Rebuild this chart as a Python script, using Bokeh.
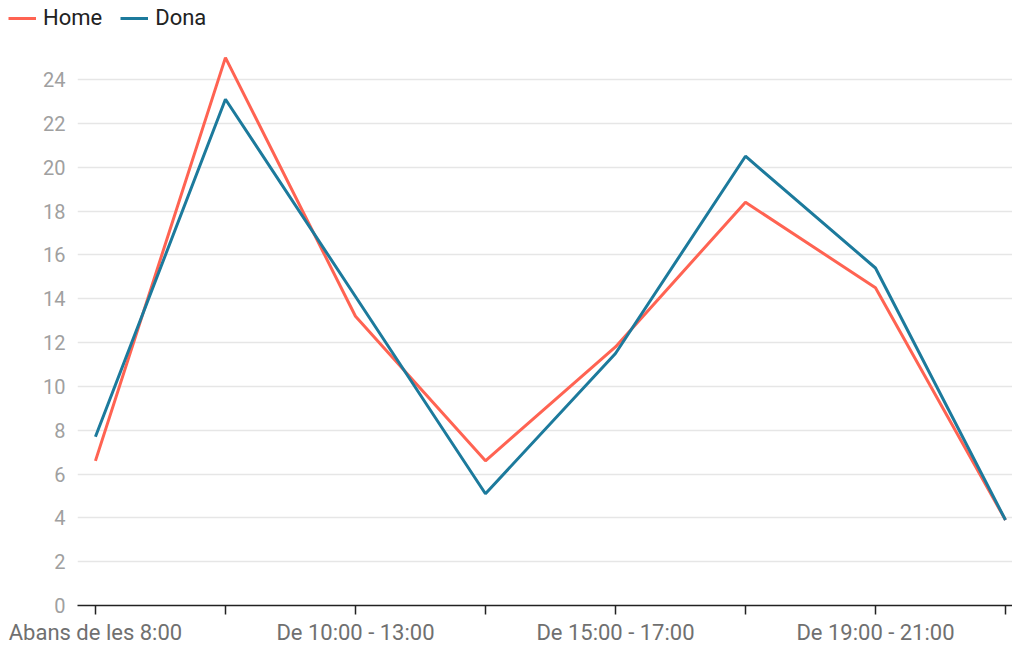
from bokeh.plotting import figure
from bokeh.layouts import column, row
from bokeh.models import Range1d, FixedTicker, Legend, LegendItem
from bokeh.embed import file_html
from bokeh.resources import INLINE

categories = ["Abans de les 8:00", "De 8:00 - 10:00", "De 10:00 - 13:00", "De 13:00 - 15:00",
              "De 15:00 - 17:00", "De 17:00 - 19:00", "De 19:00 - 21:00", "Després de les 21:00"]
series_names = ["Home", "Dona"]
home = [6.6, 25.0, 13.2, 6.6, 11.8, 18.4, 14.5, 3.9]
dona = [7.7, 23.1, 14.1, 5.1, 11.5, 20.5, 15.4, 3.9]
y_ticks = list(range(0, 25, 2))

HOME_C = "#FF6352"
DONA_C = "#1C7A9C"
FONT = "Roboto"

xs = list(range(len(categories)))

# main chart
p = figure(width=1012, height=608, output_backend="svg", toolbar_location=None,
           x_range=Range1d(-0.138, len(categories) - 1 + 0.054),
           y_range=Range1d(0, 25.78),
           min_border_left=77, min_border_right=0, min_border_top=0, min_border_bottom=43)
p.outline_line_color = None

p.line(xs, home, line_color=HOME_C, line_width=3)
p.line(xs, dona, line_color=DONA_C, line_width=3)

p.xaxis.ticker = FixedTicker(ticks=xs)
p.xaxis.major_label_overrides = {i: (c if i % 2 == 0 else "") for i, c in enumerate(categories)}
p.xaxis.axis_line_color = "#222222"
p.xaxis.axis_line_width = 1.5
p.xaxis.major_tick_line_color = "#222222"
p.xaxis.major_tick_line_width = 1.5
p.xaxis.major_tick_out = 9
p.xaxis.major_tick_in = 0
p.xaxis.minor_tick_line_color = None
p.xaxis.major_label_text_font = FONT
p.xaxis.major_label_text_font_size = "22px"
p.xaxis.major_label_text_color = "#707070"
p.xaxis.major_label_standoff = 5
p.xgrid.grid_line_color = None

p.yaxis.ticker = FixedTicker(ticks=y_ticks)
p.yaxis.axis_line_color = None
p.yaxis.major_tick_line_color = None
p.yaxis.minor_tick_line_color = None
p.yaxis.major_tick_out = 0
p.yaxis.major_tick_in = 0
p.yaxis.major_label_standoff = 12
p.yaxis.major_label_text_font = FONT
p.yaxis.major_label_text_font_size = "20px"
p.yaxis.major_label_text_color = "#a0a0a0"
p.ygrid.grid_line_color = "#e6e6e6"
p.ygrid.grid_line_width = 1.5

# legend strip on top
lg = figure(width=1012, height=40, output_backend="svg", toolbar_location=None,
            x_range=Range1d(0, 1), y_range=Range1d(0, 1),
            x_axis_location=None, y_axis_location=None,
            min_border_left=0, min_border_right=0, min_border_top=0, min_border_bottom=0)
lg.outline_line_color = None
lg.grid.visible = False
r1 = lg.line([-5, -4], [-5, -5], line_color=HOME_C, line_width=3)
r2 = lg.line([-5, -4], [-5, -5], line_color=DONA_C, line_width=3)
legend = Legend(items=[LegendItem(label=series_names[0], renderers=[r1]),
                       LegendItem(label=series_names[1], renderers=[r2])],
                location=(8, 10), orientation="horizontal",
                padding=0, margin=0, spacing=18,
                glyph_width=28, glyph_height=20, label_standoff=7,
                label_text_font=FONT, label_text_font_size="22px",
                label_text_color="#222222",
                border_line_color=None, background_fill_alpha=0)
lg.add_layout(legend, "center")

layout = column(row(lg, spacing=0), p, spacing=0)
open("out.html", "w").write(file_html(layout, INLINE))
